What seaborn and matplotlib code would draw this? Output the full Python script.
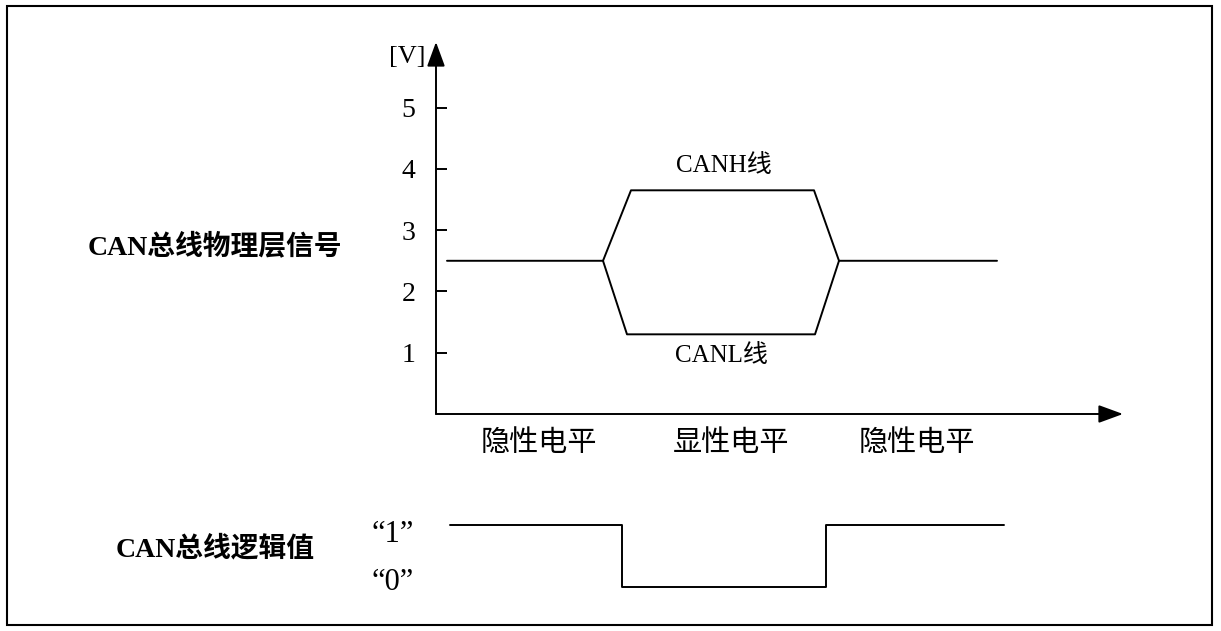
import matplotlib
matplotlib.use("Agg")
import matplotlib.pyplot as plt
import seaborn as sns
import pandas as pd
from matplotlib.patches import Rectangle

# data (time in arbitrary units, voltage in V)
canh_t = [1.1, 16.7, 19.5, 37.8, 40.3, 56.1]
canh_v = [2.5, 2.5, 3.65, 3.65, 2.5, 2.5]
canl_t = [16.7, 19.1, 37.9, 40.3]
canl_v = [2.5, 1.3, 1.3, 2.5]
logic_t = [1.4, 18.6, 18.6, 39.0, 39.0, 56.8]
logic_v = [1, 1, 0, 0, 1, 1]
volt_ticks = [1, 2, 3, 4, 5]
level_pos = [10.3, 29.5, 48.1]
level_names = ["隐性电平", "显性电平", "隐性电平"]
logic_names = ["\u201c0\u201d", "\u201c1\u201d"]

sns.set_style("white")
plt.rcParams["font.family"] = ["Liberation Serif", "Noto Sans CJK SC", "DejaVu Sans"]
plt.rcParams["text.color"] = "black"
plt.rcParams["xtick.color"] = "black"
plt.rcParams["ytick.color"] = "black"

W, H = 1221, 631
fig = plt.figure(figsize=(W / 100, H / 100), dpi=100)

# outer frame
fig.patches.append(Rectangle((7 / W, 1 - 625 / H), 1205 / W, 619 / H,
                             transform=fig.transFigure, fill=False,
                             edgecolor="black", lw=1.5))

lw = 1.4

# ---- physical layer signal ----
ax = fig.add_axes([436 / W, 1 - 414 / H, 687 / W, 372 / H])
df_h = pd.DataFrame({"t": canh_t, "v": canh_v})
df_l = pd.DataFrame({"t": canl_t, "v": canl_v})
sns.lineplot(data=df_h, x="t", y="v", estimator=None, sort=False,
             color="black", lw=lw, ax=ax)
sns.lineplot(data=df_l, x="t", y="v", estimator=None, sort=False,
             color="black", lw=lw, ax=ax)
ax.set_xlim(0, 68.7)
ax.set_ylim(0, 6.07)
for s in ax.spines.values():
    s.set_visible(False)
arrow = dict(arrowstyle="-|>,head_length=1.5,head_width=0.55", lw=lw,
             color="black", shrinkA=0, shrinkB=0)
ax.annotate("", xy=(0, 1), xytext=(0, 0), xycoords="axes fraction", arrowprops=arrow)
ax.annotate("", xy=(1, 0), xytext=(0, 0), xycoords="axes fraction", arrowprops=arrow)

ax.set_yticks(volt_ticks)
ax.set_yticklabels([str(v) for v in volt_ticks])
ax.tick_params(axis="y", direction="in", length=8, width=lw, pad=15,
               labelsize=20, left=True)
ax.set_xticks(level_pos)
ax.set_xticklabels(level_names)
ax.tick_params(axis="x", length=0, pad=12, labelsize=21)
ax.set_xlabel("")
ax.set_ylabel("")

ax.text(28.8, 4.05, "CANH线", ha="center", va="center", fontsize=18)
ax.text(28.5, 0.95, "CANL线", ha="center", va="center", fontsize=18)
fig.text(407 / W, 1 - 57 / H, "[V]", ha="center", va="center", fontsize=19)

# ---- logic value ----
ax2 = fig.add_axes([436 / W, 1 - 610 / H, 687 / W, 110 / H])
df_g = pd.DataFrame({"t": logic_t, "v": logic_v})
sns.lineplot(data=df_g, x="t", y="v", estimator=None, sort=False,
             color="black", lw=lw, ax=ax2)
ax2.set_xlim(0, 68.7)
ax2.set_ylim(-0.371, 1.403)
ax2.axis("off")
ax2.text(-4.3, 0.07, logic_names[0], ha="center", va="center", fontsize=22)
ax2.text(-4.3, 0.85, logic_names[1], ha="center", va="center", fontsize=22)

# left labels
fig.text(215 / W, 1 - 247 / H, "CAN总线物理层信号", ha="center", va="center",
         fontsize=20, fontweight="bold")
fig.text(215 / W, 1 - 549 / H, "CAN总线逻辑值", ha="center", va="center",
         fontsize=20, fontweight="bold")

fig.savefig("out.png", dpi=100, facecolor="white")
